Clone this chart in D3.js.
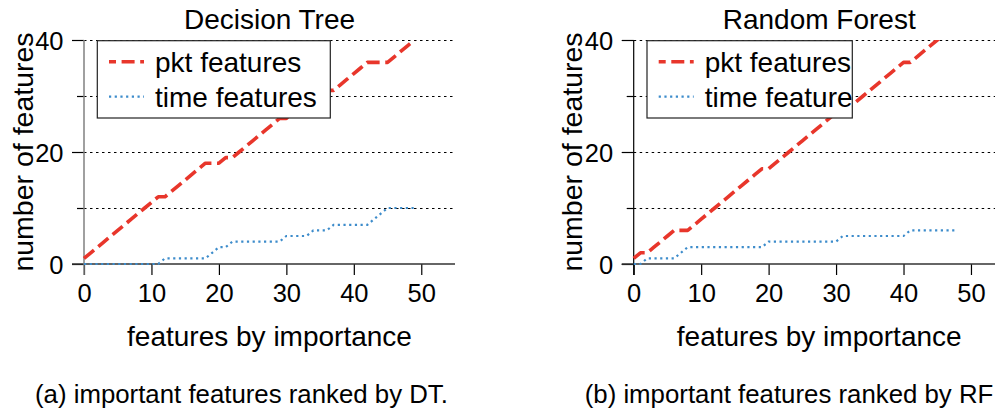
<!DOCTYPE html>
<html>
<head>
<meta charset="utf-8">
<script src="https://cdn.jsdelivr.net/npm/d3@7"></script>
<style>
  html, body { margin: 0; padding: 0; background: #fff; }
  svg { display: block; }
  text { font-family: "Liberation Sans", Arial, Helvetica, sans-serif; fill: #000; }
</style>
</head>
<body>
<svg id="chart" width="995" height="414"></svg>
<script>
// ---------- data ----------
const panelTitles = ["Decision Tree", "Random Forest"];
const panelCaptions = ["(a) important features ranked by DT.", "(b) important features ranked by RF"];
const seriesNames = ["pkt features", "time features"];
const xTickValues = [0, 10, 20, 30, 40, 50];
const yTickValues = [0, 20, 40];
const yMinorTickValues = [10, 30];
const yGridValues = [10, 20, 30, 40];
const xAxisLabel = "features by importance";
const yAxisLabel = "number of features";

// Decision Tree: cumulative counts per feature rank (rank 0..49)
const dtRank = [0,1,2,3,4,5,6,7,8,9,10,11,12,13,14,15,16,17,18,19,20,21,22,23,24,
                25,26,27,28,29,30,31,32,33,34,35,36,37,38,39,40,41,42,43,44,45,46,47,48,49];
const dtPkt  = [1,2,3,4,5,6,7,8,9,10,11,12,12,13,14,15,16,17,18,18,18,19,19,20,21,
                22,23,24,25,26,26,27,28,29,29,30,31,31,32,33,34,35,36,36,36,36,37,38,39,40];
const dtTime = [0,0,0,0,0,0,0,0,0,0,0,0,1,1,1,1,1,1,1,2,3,3,4,4,4,
                4,4,4,4,4,5,5,5,5,6,6,6,7,7,7,7,7,7,8,9,10,10,10,10,10];

// Random Forest: cumulative counts per feature rank (rank 0..48)
const rfRank = [0,1,2,3,4,5,6,7,8,9,10,11,12,13,14,15,16,17,18,19,20,21,22,23,24,
                25,26,27,28,29,30,31,32,33,34,35,36,37,38,39,40,41,42,43,44,45,46,47,48];
const rfPkt  = [1,2,2,3,4,5,6,6,6,7,8,9,10,11,12,13,14,15,16,17,17,18,19,20,21,
                22,23,24,25,26,27,27,28,29,30,31,32,33,34,35,36,36,37,38,39,40,41,42,43];
const rfTime = [0,0,1,1,1,1,1,2,3,3,3,3,3,3,3,3,3,3,3,3,4,4,4,4,4,
                4,4,4,4,4,4,5,5,5,5,5,5,5,5,5,5,6,6,6,6,6,6,6,6];

// ---------- layout / style ----------
const colors = { pkt: "#e8362b", time: "#3d8ccb" };
const panels = [
  { title: panelTitles[0], caption: panelCaptions[0], rank: dtRank, pkt: dtPkt, time: dtTime,
    x0: 84, legendW: 233, ySpine: "#808080", ySpineW: 1.5 },
  { title: panelTitles[1], caption: panelCaptions[1], rank: rfRank, pkt: rfPkt, time: rfTime,
    x0: 633.7, legendW: 205.3, ySpine: "#000", ySpineW: 1.2 }
];
const plotW = 371, yTop = 40, yBot = 264;

const svg = d3.select("#chart");

panels.forEach((p, i) => {
  const x = d3.scaleLinear().domain([0, 55]).range([p.x0, p.x0 + plotW]);
  const y = d3.scaleLinear().domain([0, 40]).range([yBot, yTop]);
  const g = svg.append("g");
  const cx = (x.range()[0] + x.range()[1]) / 2;

  // gridlines
  g.append("g").selectAll("line").data(yGridValues).join("line")
    .attr("x1", x(0)).attr("x2", x(55))
    .attr("y1", d => y(d) + 0.5).attr("y2", d => y(d) + 0.5)
    .attr("stroke", "#000").attr("stroke-width", 1)
    .attr("stroke-dasharray", "2.5,3.5");

  // y axis (major)
  const yAx = g.append("g").attr("transform", `translate(${x(0)},0)`)
    .call(d3.axisLeft(y).tickValues(yTickValues).tickSize(12).tickSizeOuter(0).tickPadding(8.5));
  yAx.select(".domain").remove();
  yAx.selectAll(".tick line").attr("stroke", "#000").attr("stroke-width", 1.2);
  yAx.selectAll(".tick text").attr("font-size", 25.5).attr("dy", "0.38em")
    .style("font-family", '"Liberation Sans", Arial, sans-serif');
  // y minor ticks
  g.append("g").attr("transform", `translate(${x(0)},0)`)
    .call(d3.axisLeft(y).tickValues(yMinorTickValues).tickSize(7).tickSizeOuter(0).tickFormat(""))
    .call(a => a.select(".domain").remove())
    .selectAll(".tick line").attr("stroke", "#000").attr("stroke-width", 1.2);

  // x axis
  const xAx = g.append("g").attr("transform", `translate(0,${yBot})`)
    .call(d3.axisBottom(x).tickValues(xTickValues).tickSize(11).tickSizeOuter(0).tickPadding(8.5));
  xAx.select(".domain").remove();
  xAx.selectAll(".tick line").attr("stroke", "#000").attr("stroke-width", 1.2);
  xAx.selectAll(".tick text").attr("font-size", 25.5)
    .style("font-family", '"Liberation Sans", Arial, sans-serif');

  // spines
  g.append("line").attr("x1", x(0) - 12).attr("x2", x(55)).attr("y1", yBot).attr("y2", yBot)
    .attr("stroke", "#333").attr("stroke-width", 1.3);
  g.append("line").attr("x1", x(0)).attr("x2", x(0)).attr("y1", yTop).attr("y2", yBot + 11)
    .attr("stroke", p.ySpine).attr("stroke-width", p.ySpineW);

  // clip for data lines
  const clipId = "clip" + i;
  svg.append("clipPath").attr("id", clipId).append("rect")
    .attr("x", x(0) - 4).attr("y", yTop).attr("width", plotW + 4).attr("height", yBot - yTop + 4);

  const lineGen = vals => d3.line().x((d, k) => x(p.rank[k])).y(d => y(d))(vals);
  const lg = g.append("g").attr("clip-path", `url(#${clipId})`);
  lg.append("path").attr("d", lineGen(p.time)).attr("fill", "none")
    .attr("stroke", colors.time).attr("stroke-width", 2.2).attr("stroke-dasharray", "2.2,3.5");
  lg.append("path").attr("d", lineGen(p.pkt)).attr("fill", "none")
    .attr("stroke", colors.pkt).attr("stroke-width", 3.6).attr("stroke-dasharray", "13,5.6")
    .attr("stroke-linejoin", "round");

  // legend
  const lx = x(0) + 13.3, ly = 40.7, lh = 77.3;
  const legClip = "legclip" + i;
  svg.append("clipPath").attr("id", legClip).append("rect")
    .attr("x", lx).attr("y", ly).attr("width", p.legendW).attr("height", lh);
  const leg = g.append("g");
  leg.append("rect").attr("x", lx).attr("y", ly).attr("width", p.legendW).attr("height", lh)
    .attr("fill", "#fff").attr("stroke", "#222").attr("stroke-width", 1.2);
  const items = [
    { name: seriesNames[0], color: colors.pkt, w: 3.6, dash: "7,5.6,13,5.6,13", ly: 61.7, ty: 71.7 },
    { name: seriesNames[1], color: colors.time, w: 2.2, dash: "2.2,3.5", ly: 96.7, ty: 106.7 }
  ];
  items.forEach(it => {
    leg.append("line").attr("x1", lx + 11.7).attr("x2", lx + 46.7).attr("y1", it.ly).attr("y2", it.ly)
      .attr("stroke", it.color).attr("stroke-width", it.w).attr("stroke-dasharray", it.dash);
    leg.append("text").attr("x", lx + 57.7).attr("y", it.ty).attr("font-size", 28)
      .attr("clip-path", `url(#${legClip})`).text(it.name);
  });

  // title
  g.append("text").attr("x", cx).attr("y", 29.3).attr("text-anchor", "middle")
    .attr("font-size", 28).text(p.title);
  // x label
  g.append("text").attr("x", cx).attr("y", 345.5).attr("text-anchor", "middle")
    .attr("font-size", 28).text(xAxisLabel);
  // y label
  g.append("text").attr("transform", `translate(${x(0) - 51.5},152) rotate(-90)`)
    .attr("text-anchor", "middle").attr("font-size", 28.5).text(yAxisLabel);
  // caption
  g.append("text").attr("x", x(0) - 49).attr("y", 403).attr("font-size", 25.8).text(p.caption);
});
</script>
</body>
</html>
